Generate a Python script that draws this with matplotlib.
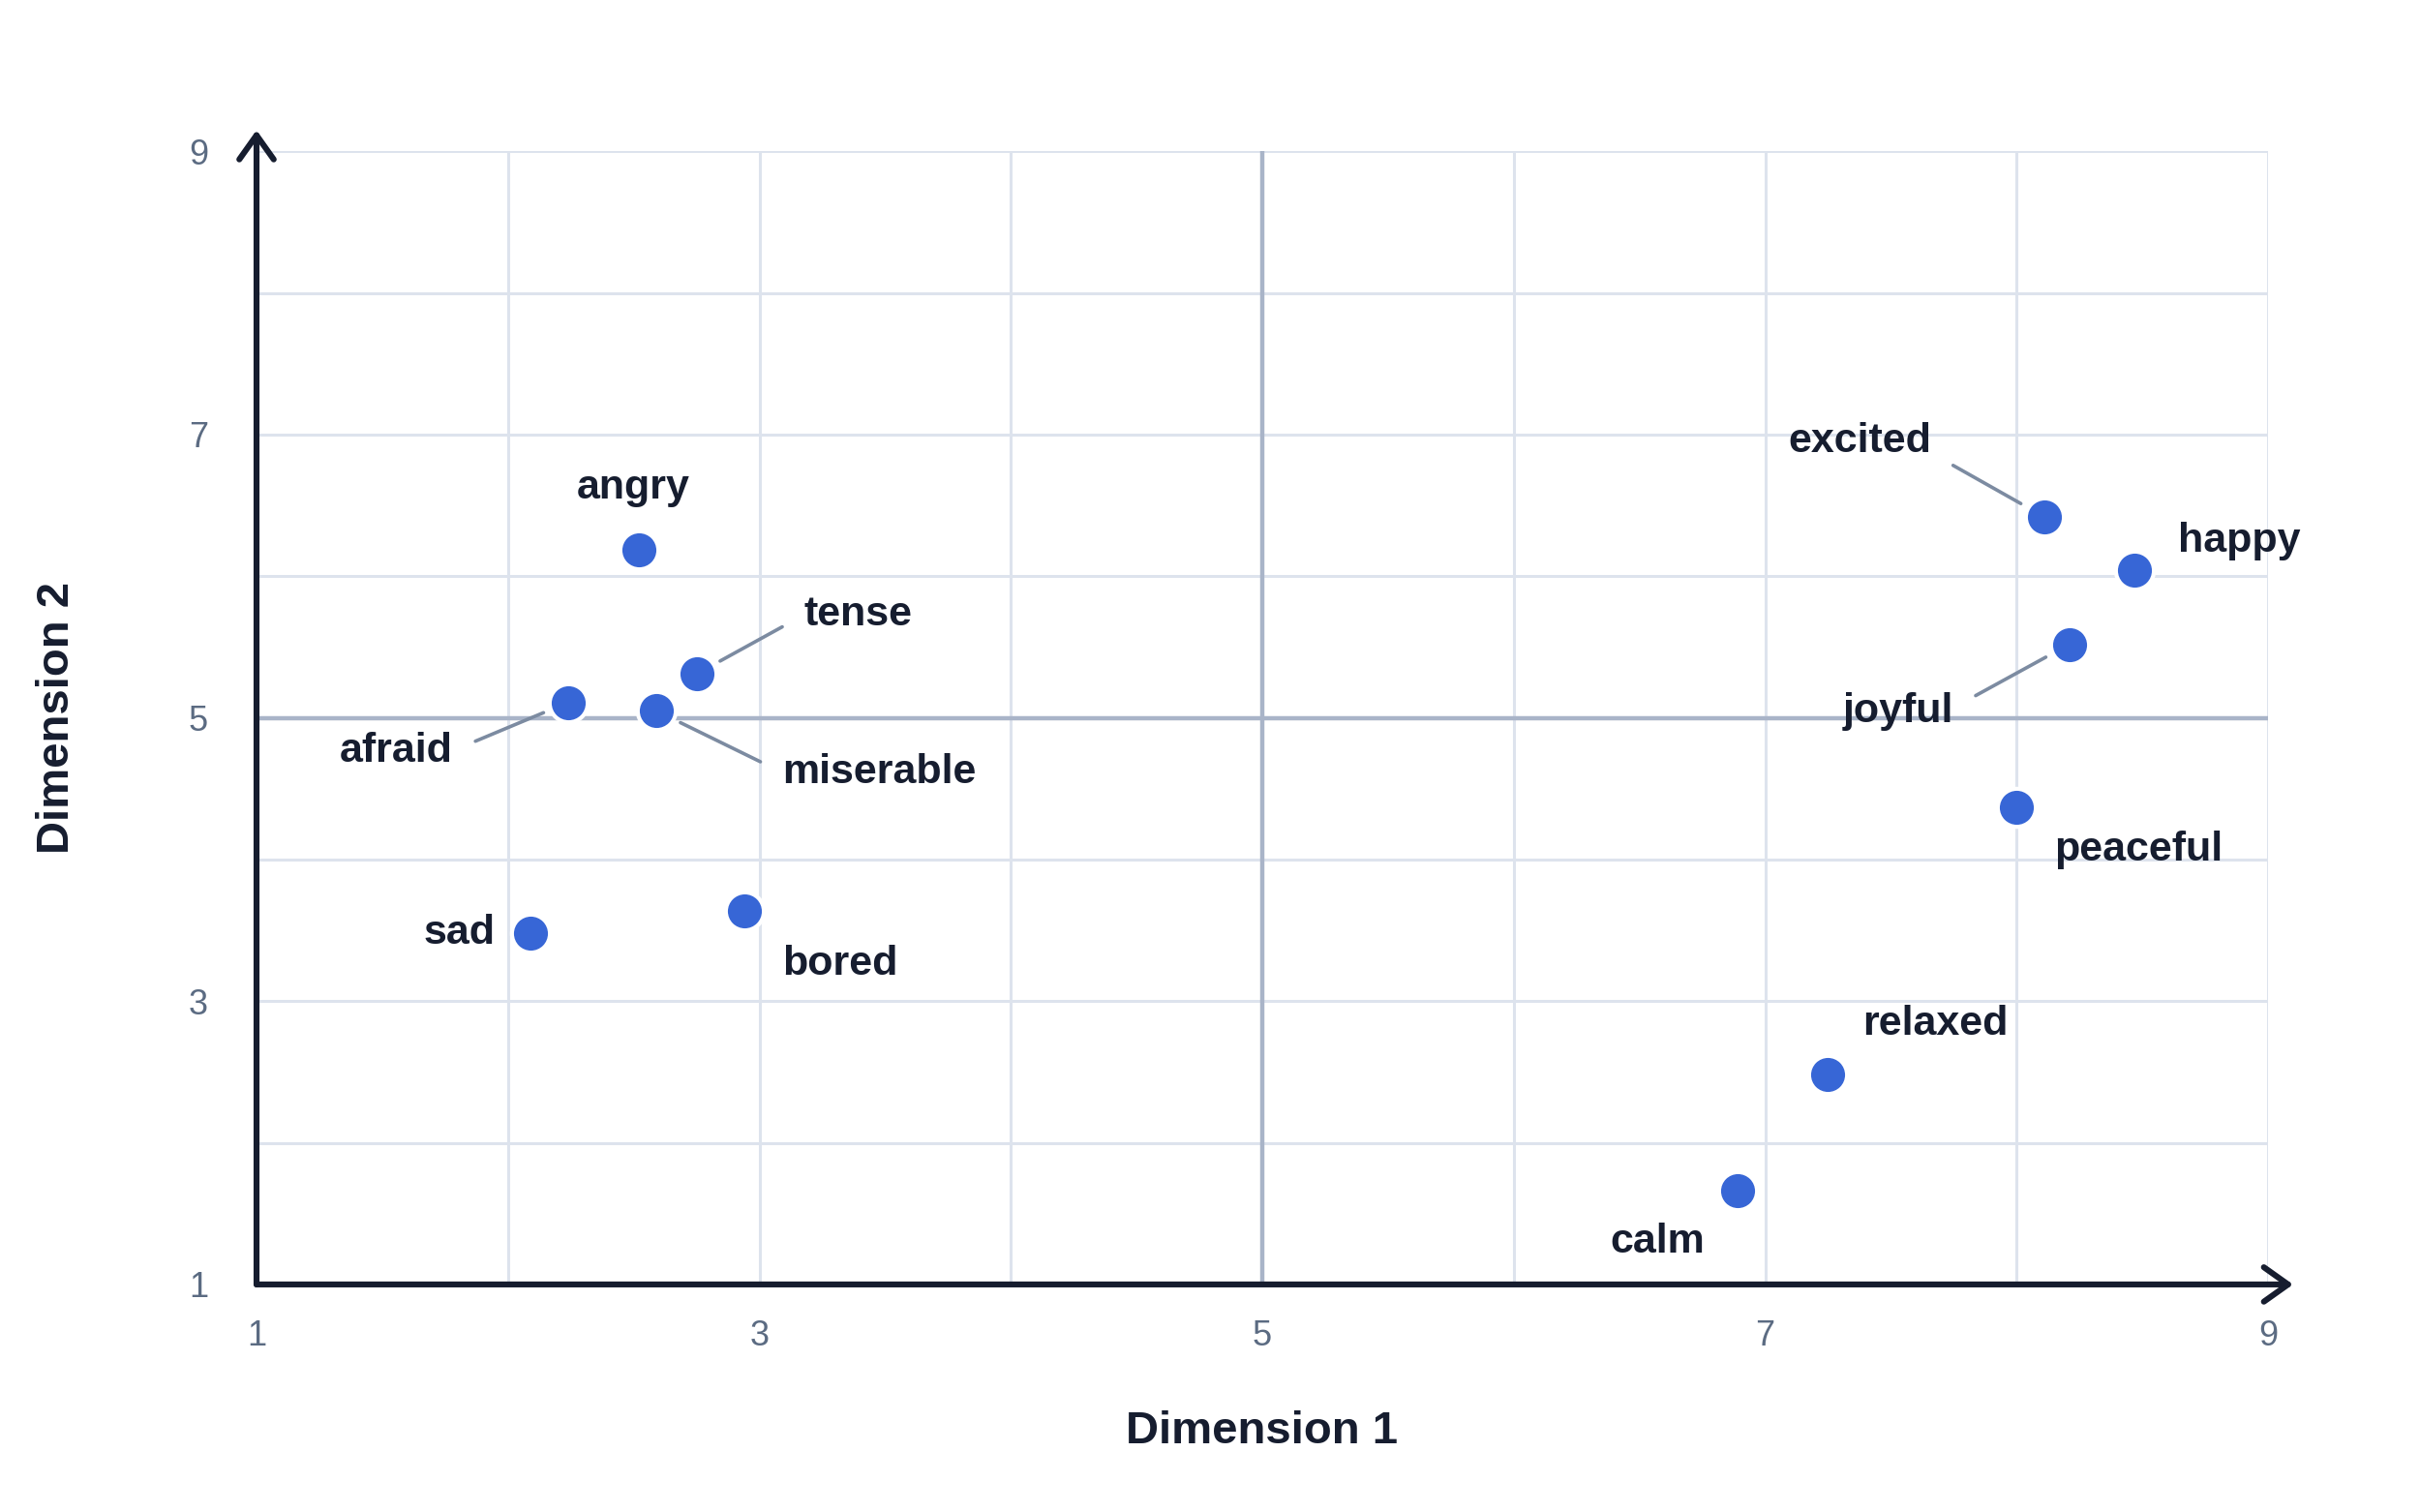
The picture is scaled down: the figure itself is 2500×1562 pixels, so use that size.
import numpy as np
import matplotlib
matplotlib.use("Agg")
import matplotlib.pyplot as plt

# data
words = ['angry', 'tense', 'afraid', 'miserable', 'sad', 'bored',
         'excited', 'happy', 'joyful', 'peaceful', 'relaxed', 'calm']
dim1 = [2.52, 2.75, 2.24, 2.59, 2.09, 2.94, 8.11, 8.47, 8.21, 8.00, 7.25, 6.89]
dim2 = [6.19, 5.31, 5.11, 5.05, 3.48, 3.64, 6.42, 6.04, 5.52, 4.37, 2.48, 1.66]
ticks = [1, 2, 3, 4, 5, 6, 7, 8, 9]
tick_labels = ['1', '', '3', '', '5', '', '7', '', '9']

# label placement: (dx pt, dy pt, ha, leader relpos or None)
label_pos = {
    'angry':     (-2, 23, 'center', None),
    'tense':     (40, 22, 'left', (0, 0.5)),
    'afraid':    (-43, -18, 'right', (1, 0.5)),
    'miserable': (47, -23, 'left', (0, 0.5)),
    'sad':       (-13, 0, 'right', None),
    'bored':     (14, -20, 'left', None),
    'excited':   (-42, 28, 'right', (1, 0.2)),
    'happy':     (16, 11, 'left', None),
    'joyful':    (-43, -25, 'right', (1, 0.6)),
    'peaceful':  (14, -16, 'left', None),
    'relaxed':   (13, 19, 'left', None),
    'calm':      (-12, -19, 'right', None),
}

plt.rcParams['font.family'] = ['Liberation Sans', 'DejaVu Sans']

navy = '#161d2f'
fig = plt.figure(figsize=(12.5, 7.81), dpi=200)
ax = fig.add_axes([0.106, 0.1505, 0.8312, 0.7494])

ax.set_xlim(1, 9)
ax.set_ylim(1, 9)
ax.set_xticks(ticks)
ax.set_yticks(ticks)
ax.set_xticklabels(tick_labels)
ax.set_yticklabels(tick_labels)
ax.tick_params(length=0, labelsize=13, labelcolor='#5b6b82')
ax.tick_params(axis='x', pad=13)
ax.tick_params(axis='y', pad=18)
for s in ax.spines.values():
    s.set_visible(False)
ax.grid(True, color='#dde3ed', lw=1.1, zorder=0)
ax.set_axisbelow(True)

# center lines
ax.axvline(5, color='#a9b4c8', lw=1.6, zorder=1)
ax.axhline(5, color='#a9b4c8', lw=1.6, zorder=1)

# axes arrows
arrow = dict(arrowstyle='->,head_length=0.45,head_width=0.32', color=navy,
             lw=2.2, mutation_scale=20, shrinkA=0, shrinkB=0)
ax.annotate('', xy=(9.1, 1), xytext=(1, 1), arrowprops=arrow,
            annotation_clip=False, zorder=4)
ax.annotate('', xy=(1, 9.15), xytext=(1, 1), arrowprops=arrow,
            annotation_clip=False, zorder=4)

ax.scatter(dim1, dim2, s=200, color='#3766d6', edgecolor='white',
           linewidth=1.5, zorder=5, clip_on=False)

for w, x, y in zip(words, dim1, dim2):
    dx, dy, ha, rel = label_pos[w]
    props = None
    if rel is not None:
        props = dict(arrowstyle='-', color='#7c8ba1', lw=1.3,
                     relpos=rel, shrinkA=7, shrinkB=10)
    ax.annotate(w, xy=(x, y), xytext=(dx, dy), textcoords='offset points',
                ha=ha, va='center', fontsize=15.5, fontweight='bold',
                color=navy, arrowprops=props, zorder=6)

ax.text(0.5, -0.13, 'Dimension 1', transform=ax.transAxes, ha='center',
        va='center', fontsize=17, fontweight='bold', color=navy)
ax.text(-0.099, 0.5, 'Dimension 2', transform=ax.transAxes, ha='center',
        va='center', rotation=90, fontsize=17, fontweight='bold', color=navy)

fig.savefig('out.png', dpi=200, facecolor='white')
